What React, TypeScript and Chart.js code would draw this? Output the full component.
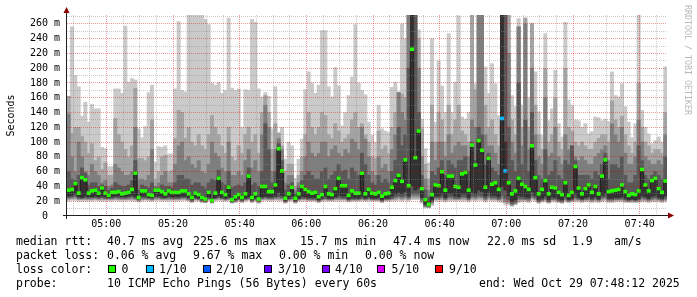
import React, { useEffect, useRef } from 'react';
import { Chart, registerables } from 'chart.js';

Chart.register(...registerables);

// ---- data: one value per 60 s step, 04:48:12 .. 07:48:12 ----
const median = [
  35,36,44,31,52,49,31,34,35,31, 38,31,28,32,32,33,30,31,32,36, 58,25,34,34,29,28,35,35,33,30,
  34,32,32,32,34,34,30,25,31,29, 25,23,32,21,31,51,32,29,39,22, 26,29,25,30,54,25,30,23,40,40,
  33,33,42,91,61,24,30,39,24,30, 40,36,33,31,32,26,29,40,30,29, 37,51,41,41,28,34,31,31,58,30,
  36,31,30,32,27,30,31,39,48,55, 47,76,41,225.6,79,115,37,22,15.7,29, 42,41,60,35,54,54,40,39,57,59,
  35,96,69,102,89,39,78,43,45,36, 132,61,45,30,34,51,43,40,36,95, 52,30,36,48,30,39,38,32,29,45,
  28,32,67,38,30,37,42,32,40,30, 54,76,33,34,35,36,42,33,28,30, 29,34,63,42,34,48,51,37,32,47.4,
];

const ping10 = [
  162,256,190,175,135,154,127,151,145,145, 93,91,67,67,172,172,166,257,181,186, 184,118,106,121,167,177,73,94,93,95,
  84,84,172,263,170,168,272,272,272,272, 272,266,259,180,177,181,166,170,268,173, 170,172,120,171,170,266,262,172,161,167,
  162,118,175,113,120,77,100,95,51,77, 104,171,195,180,166,177,251,251,175,161, 201,176,122,140,163,188,259,180,170,164,
  127,109,100,150,118,115,113,174,181,168, 260,240,272,272,272,252,131,91,72,240, 127,210,176,140,247,140,181,271,134,131,
  140,272,179,272,272,202,166,206,179,136, 272,272,272,163,148,267,150,268,160,261, 195,141,109,247,129,145,197,125,107,262,
  157,150,130,129,120,125,111,114,134,133, 129,131,128,195,163,161,179,148,127,106, 125,272,143,120,111,98,102,107,100,202,
];

const ping9 = [
  162,112,120,120,108,100,85,98,75,80, 63,72,55,55,132,110,100,90,80,95, 173,78,78,75,80,130,50,60,80,82,
  60,62,105,143,140,105,120,100,95,110, 95,90,110,136,120,110,95,85,120,80, 75,95,85,110,120,100,110,85,140,163,
  140,90,125,112,95,60,70,70,40,55, 80,110,140,120,110,120,140,136,110,105, 125,115,100,105,110,130,140,120,125,110,
  100,80,78,115,90,95,85,120,140,167, 165,160,272,272,272,240,118,70,50,150, 100,140,130,100,150,110,130,150,115,110,
  100,272,171,272,272,150,120,130,110,95, 272,272,272,130,110,256,120,268,120,260, 150,110,90,200,100,110,160,100,90,200,
  120,115,100,95,100,95,90,90,100,105, 110,110,100,156,130,120,135,110,95,85, 100,180,120,100,95,85,90,90,85,140,
];

const ping8 = [
  138,80,60,100,80,60,55,70,60,55, 45,48,40,42,70,65,60,55,55,60, 120,50,50,48,55,90,40,45,55,60,
  45,45,70,95,100,75,80,70,65,75, 60,58,70,100,85,80,65,60,100,55, 55,60,55,75,90,65,75,60,110,150,
  120,60,90,105,90,45,55,55,34,45, 60,80,100,85,80,85,100,100,80,90, 95,85,80,90,85,104,100,90,120,104,
  80,60,55,80,65,70,60,90,110,167, 140,130,272,272,272,200,80,50,35,100, 75,100,100,80,110,85,95,100,95,95,
  80,130,120,272,272,110,95,95,85,70, 272,272,220,100,85,256,95,260,90,200, 110,80,70,160,80,85,120,80,70,110,
  90,95,80,75,80,75,70,70,80,85, 90,95,75,125,110,100,120,85,70,70, 80,130,100,80,75,70,70,75,70,110,
];

const ping7 = [
  60,50,48,55,65,58,42,45,45,40, 42,40,35,38,45,42,40,40,42,48, 75,35,42,40,38,45,38,38,42,40,
  40,38,45,55,55,50,50,42,45,45, 40,38,45,50,48,62,45,42,60,38, 40,42,40,45,65,42,45,40,60,125,
  90,45,60,98,75,35,42,45,30,38, 48,55,60,55,50,50,60,65,50,55, 60,70,60,62,50,65,60,55,85,70,
  55,45,42,55,45,50,45,60,75,120, 95,110,200,272,272,140,55,35,25,60, 55,65,75,55,75,70,65,75,75,80,
  60,100,75,120,110,70,85,65,60,55, 272,272,120,75,60,180,70,130,60,140, 75,55,50,90,55,60,75,55,50,75,
  70,95,75,55,55,55,55,50,60,55, 70,85,50,70,70,65,80,55,45,45, 55,95,75,55,50,55,60,55,50,80,
];

const ping6 = [
  37,38,46,33,54,51,33,36,37,33, 40,33,30,34,34,35,32,33,34,38, 60,27,36,36,31,30,37,37,35,32,
  36,34,34,34,36,36,32,27,33,31, 27,25,34,23,33,53,34,31,41,24, 28,31,27,32,56,27,32,25,42,42,
  35,35,44,92,63,26,32,41,26,32, 42,38,35,33,34,28,31,42,32,31, 39,53,43,43,30,36,33,33,60,32,
  38,33,32,34,29,32,33,41,50,57, 49,78,43,272,81,117,39,24,17,31, 44,43,62,37,56,56,42,41,59,61,
  37,98,71,104,91,41,80,45,47,38, 272,100,47,32,36,53,45,42,38,97, 54,32,38,50,32,41,40,34,31,47,
  30,34,69,40,32,39,44,34,42,32, 56,78,35,36,37,38,44,35,30,32, 31,36,65,44,36,50,53,39,34,49,
];

const ping5 = [
  27,28,30,26,25,27,26,26,27,26, 27,26,25,26,27,27,26,26,27,28, 26,23,27,27,25,25,27,27,26,25,
  27,26,26,26,27,27,25,22,25,24, 22,21,26,20,25,27,25,24,26,20, 22,24,22,24,26,22,24,21,26,27,
  26,26,27,32,28,21,24,27,21,24, 27,26,25,25,25,22,24,27,24,24, 26,28,27,27,23,25,24,24,27,24,
  26,24,24,25,22,24,24,27,30,32, 30,33,27,41,35,38,25,16,14,22, 27,27,30,25,30,30,27,26,30,30,
  25,32,30,35,33,27,32,28,28,26, 40,35,27,20,22,28,27,26,25,33, 28,22,24,27,22,26,25,23,22,27,
  22,24,30,25,23,25,26,24,26,23, 28,30,24,24,25,25,26,24,22,23, 22,24,28,26,24,27,28,25,24,27,
];

const ping4 = [
  25,26,27,24,24,25,24,25,25,24, 25,24,24,24,25,25,24,24,25,26, 24,22,25,25,24,23,25,25,24,24,
  25,24,24,24,25,25,23,21,24,23, 21,20,24,19,24,25,24,23,24,19, 21,23,21,23,24,21,23,20,24,25,
  24,24,25,26,25,20,23,24,20,23, 24,24,23,23,23,21,23,24,23,23, 24,25,24,24,22,23,23,23,24,23,
  24,23,23,23,21,23,23,24,26,27, 26,28,25,30,30,30,23,14,13,20, 25,25,26,23,26,26,24,24,26,26,
  23,27,26,28,27,24,27,25,25,23, 28,24,22,17,19,24,24,23,23,27, 25,20,22,24,20,23,23,21,20,24,
  21,22,25,23,22,23,24,22,24,22, 25,26,22,22,23,23,24,22,21,22, 21,22,25,24,22,24,25,23,22,24,
];

const ping3 = [
  24,24,25,23,23,23,23,23,24,23, 24,23,23,23,24,23,23,23,23,24, 23,21,23,23,23,22,24,24,23,23,
  23,23,23,23,24,24,22,20,23,22, 20,19,23,19,23,24,23,22,23,19, 20,22,20,22,23,20,22,19,23,24,
  23,23,24,24,24,19,22,23,19,22, 23,23,22,22,22,20,22,23,22,22, 23,23,23,23,21,22,22,22,23,22,
  23,22,22,22,20,22,22,23,24,25, 24,25,23,27,27,27,21,13,12,18, 23,23,24,22,24,24,23,23,24,24,
  22,25,24,25,25,22,25,23,23,22, 24,20,19,15,17,22,22,22,21,25, 23,19,21,22,19,22,22,20,19,22,
  20,21,23,22,21,22,22,21,22,21, 23,24,21,21,22,22,22,21,20,21, 20,21,23,22,21,22,23,22,21,22,
];

const ping2 = [
  22,23,23,22,22,22,22,22,22,22, 22,22,22,22,22,22,22,22,22,22, 22,20,22,22,22,21,22,22,22,22,
  22,22,22,22,22,22,21,19,22,21, 19,18,22,18,22,22,22,21,22,18, 19,21,19,21,22,19,21,18,22,22,
  22,22,22,22,22,18,21,22,18,21, 22,22,21,21,21,19,21,22,21,21, 22,22,22,22,20,21,21,21,22,21,
  22,21,21,21,19,21,21,22,22,23, 22,23,22,24,24,24,19,12,11.5,16, 22,22,22,21,22,22,22,22,22,22,
  21,23,22,23,23,21,23,22,22,21, 21,18,17,14,16,20,21,21,20,23, 22,18,20,21,18,21,21,19,18,21,
  19,20,21,21,20,21,21,20,21,20, 21,22,20,20,21,21,21,20,19,20, 19,20,21,21,20,21,21,21,20,21,
];

const ping1 = [
  20,21,21,20,20,20,20,20,21,20, 20,20,20,20,21,20,20,20,21,20, 20,19,20,21,20,20,21,21,20,20,
  20,20,20,20,21,21,20,18,20,20, 18,18,20,17,20,21,20,20,20,17, 18,20,18,20,21,18,20,17,20,21,
  20,20,21,20,20,17,20,20,17,20, 20,20,20,20,20,18,20,20,20,20, 20,20,20,20,19,20,20,20,20,20,
  20,20,20,20,18,20,20,20,20,21, 20,21,20,22,22,22,17,11,11,14, 20,20,20,19,20,20,20,20,20,20,
  19,21,20,21,21,19,21,20,20,19, 18,15,15,13,15,18,19,19,18,21, 20,17,19,19,17,19,19,18,17,19,
  18,19,19,19,18,19,19,18,19,18, 19,20,18,18,19,19,19,18,18,18, 18,18,19,19,18,19,19,19,18,19,
];

// lost pings out of 10 for each step
const lossTenths = [
  0,0,0,0,0,0,0,0,0,0, 0,0,0,0,0,0,0,0,0,0, 0,0,0,0,0,0,0,0,0,0,
  0,0,0,0,0,0,0,0,0,0, 0,0,0,0,0,0,0,0,0,0, 0,0,0,0,0,0,0,0,0,0,
  0,0,0,0,0,0,0,0,0,0, 0,0,0,0,0,0,0,0,0,0, 0,0,0,0,0,0,0,0,0,0,
  0,0,0,0,0,0,0,0,0,0, 0,0,0,0,0,0,0,0,0,0, 0,0,0,0,0,0,0,0,0,0,
  0,0,0,0,0,0,0,0,0,0, 1,1,0,0,0,0,0,0,0,0, 0,0,0,0,0,0,0,0,0,0,
  0,0,0,0,0,0,0,0,0,0, 0,0,0,0,0,0,0,0,0,0, 0,0,0,0,0,0,0,0,0,0,
];

const lossLevels = ['0', '1/10', '2/10', '3/10', '4/10', '5/10', '9/10'];
const lossLevelTenths = [0, 1, 2, 3, 4, 5, 9];
const lossColors = ['#26ff00', '#00b8ff', '#0059ff', '#5e00ff', '#7e00ff', '#dd00ff', '#ff0000'];

const xTickLabels = ['05:00', '05:20', '05:40', '06:00', '06:20', '06:40', '07:00', '07:20', '07:40'];
const yTickValues = [0, 10, 20, 30, 40, 50, 60, 70, 80, 90, 100, 110, 120, 130, 140, 150, 160, 170, 180, 190, 200, 210, 220, 230, 240, 250, 260, 270];

const START_MIN = 4 * 60 + 48 + 12 / 60; // 04:48:12
const STEPS = 180;
const Y_MAX = 272;

const FONT = '"DejaVu Sans Mono", monospace';
const MAJOR_GRID = 'rgba(220, 0, 0, 0.4)';
const MINOR_GRID = 'rgba(140, 140, 140, 0.45)';

const hhmm = (m: number) =>
  `${String(Math.floor(m / 60)).padStart(2, '0')}:${String(m % 60).padStart(2, '0')}`;

const gridMinutes: number[] = [];
for (let m = 290; m <= 465; m += 5) gridMinutes.push(m);

const colorForLoss = (t: number) => {
  const k = lossLevelTenths.indexOf(t);
  return lossColors[k < 0 ? 0 : k];
};

const bands: [number[], number[], string][] = [
  [ping1, ping10, '#cacaca'],
  [ping2, ping9, '#a4a4a4'],
  [ping3, ping8, '#7e7e7e'],
  [ping4, ping7, '#585858'],
  [ping5, ping6, '#323232'],
];

const axisPlugin = {
  id: 'rrdAxes',
  afterDraw(chart: any) {
    const { ctx, chartArea: a } = chart;
    ctx.save();
    ctx.strokeStyle = '#202020';
    ctx.lineWidth = 1;
    ctx.beginPath();
    ctx.moveTo(a.left - 0.5, a.bottom + 3);
    ctx.lineTo(a.left - 0.5, a.top - 2);
    ctx.moveTo(a.left - 4, a.bottom - 0.5);
    ctx.lineTo(a.right + 2, a.bottom - 0.5);
    ctx.stroke();
    ctx.fillStyle = '#8b0000';
    ctx.beginPath();
    ctx.moveTo(a.left - 0.5, a.top - 8);
    ctx.lineTo(a.left - 3.5, a.top - 2);
    ctx.lineTo(a.left + 2.5, a.top - 2);
    ctx.closePath();
    ctx.fill();
    ctx.beginPath();
    ctx.moveTo(a.right + 7, a.bottom - 0.5);
    ctx.lineTo(a.right + 1, a.bottom - 3.5);
    ctx.lineTo(a.right + 1, a.bottom + 2.5);
    ctx.closePath();
    ctx.fill();
    ctx.restore();
  },
};

function buildConfig(): any {
  const datasets: any[] = bands.map(([lo, hi, color], k) => ({
    type: 'bar',
    data: lo.map((v, i) => ({ x: i + 0.5, y: [v, hi[i]] })),
    backgroundColor: color,
    borderWidth: 0,
    grouped: false,
    barPercentage: 1,
    categoryPercentage: 1,
    order: 10 - k,
  }));
  datasets.push({
    type: 'line',
    data: median.map((v, i) => ({ x: i + 0.5, y: v })),
    stepped: 'middle',
    borderColor: '#202020',
    borderWidth: 1,
    pointRadius: 0,
    fill: false,
    order: 1,
  });
  datasets.push({
    type: 'bar',
    data: median.map((v, i) => ({ x: i + 0.5, y: [v - 2, v + 2] })),
    backgroundColor: median.map((_, i) => colorForLoss(lossTenths[i])),
    borderWidth: 0,
    grouped: false,
    barPercentage: 1,
    categoryPercentage: 1,
    order: 0,
  });

  return {
    type: 'bar',
    data: { datasets },
    plugins: [axisPlugin],
    options: {
      responsive: false,
      devicePixelRatio: 1,
      animation: false,
      events: [],
      layout: { padding: { top: 15, right: 30, left: 0, bottom: 0 } },
      plugins: { legend: { display: false }, tooltip: { enabled: false }, title: { display: false } },
      scales: {
        x: {
          type: 'linear',
          min: 0,
          max: STEPS,
          offset: false,
          afterFit: (s: any) => { s.height = 297 - 216; },
          afterBuildTicks: (s: any) => {
            s.ticks = gridMinutes.map((m) => ({ value: m - START_MIN }));
          },
          grid: {
            offset: false,
            z: 1,
            drawTicks: false,
            lineWidth: 1,
            color: (c: any) => (gridMinutes[c.index] % 20 === 0 ? MAJOR_GRID : MINOR_GRID),
          },
          border: { display: false, dash: [1, 1] },
          ticks: {
            autoSkip: false,
            maxRotation: 0,
            minRotation: 0,
            padding: 2,
            color: '#000',
            font: { family: FONT, size: 10 },
            callback: (_v: any, i: number) => {
              const lbl = hhmm(gridMinutes[i]);
              return xTickLabels.includes(lbl) ? lbl : '';
            },
          },
        },
        y: {
          type: 'linear',
          min: 0,
          max: Y_MAX,
          afterFit: (s: any) => { s.width = 67; },
          afterBuildTicks: (s: any) => {
            s.ticks = yTickValues.map((v) => ({ value: v }));
          },
          grid: {
            z: 1,
            drawTicks: false,
            lineWidth: 1,
            color: (c: any) => {
              const v = yTickValues[c.index];
              if (v === 0) return 'rgba(0,0,0,0)';
              return v % 20 === 0 ? MAJOR_GRID : MINOR_GRID;
            },
          },
          border: { display: false, dash: [1, 1] },
          title: {
            display: true,
            text: 'Seconds',
            color: '#000',
            font: { family: FONT, size: 10 },
            padding: { top: 5, bottom: 0 },
          },
          ticks: {
            autoSkip: false,
            padding: 7,
            color: '#000',
            font: { family: FONT, size: 10 },
            callback: (_v: any, i: number) => {
              const v = yTickValues[i];
              if (v % 20 !== 0) return '';
              return v === 0 ? '0  ' : `${v} m`;
            },
          },
        },
      },
    },
  };
}

const textStyle = (left: number, top: number): React.CSSProperties => ({
  position: 'absolute',
  left,
  top,
  fontFamily: FONT,
  fontSize: 11.5,
  lineHeight: '14px',
  whiteSpace: 'pre',
  color: '#000',
});

const squareLefts = [108, 146, 203, 264, 322, 377, 435];
const squareLabelLefts = [121.5, 159, 216, 278, 335, 391.5, 449];

export default function App() {
  const ref = useRef<HTMLCanvasElement>(null);
  useEffect(() => {
    if (!ref.current) return;
    const chart = new Chart(ref.current, buildConfig());
    return () => chart.destroy();
  }, []);

  return (
    <div
      style={{
        position: 'absolute',
        left: 0,
        top: 0,
        width: 697,
        height: 297,
        background: '#fff',
        overflow: 'hidden',
      }}
    >
      <canvas
        ref={ref}
        width={697}
        height={297}
        style={{ position: 'absolute', left: 0, top: 0, width: 697, height: 297 }}
      />
      <div
        style={{
          position: 'absolute',
          left: 683,
          top: 5,
          writingMode: 'vertical-rl',
          fontFamily: FONT,
          fontSize: 8.3,
          lineHeight: '9px',
          color: '#b8b8b8',
          whiteSpace: 'pre',
        }}
      >
        RRDTOOL / TOBI OETIKER
      </div>

      <span style={textStyle(16, 234)}>median rtt:</span>
      <span style={textStyle(107, 234)}>40.7 ms avg</span>
      <span style={textStyle(193, 234)}>225.6 ms max</span>
      <span style={textStyle(300, 234)}>15.7 ms min</span>
      <span style={textStyle(393, 234)}>47.4 ms now</span>
      <span style={textStyle(487, 234)}>22.0 ms sd</span>
      <span style={textStyle(572, 234)}>1.9</span>
      <span style={textStyle(614, 234)}>am/s</span>

      <span style={textStyle(16, 248)}>packet loss:</span>
      <span style={textStyle(107, 248)}>0.06 % avg</span>
      <span style={textStyle(193, 248)}>9.67 % max</span>
      <span style={textStyle(279, 248)}>0.00 % min</span>
      <span style={textStyle(365, 248)}>0.00 % now</span>

      <span style={textStyle(16, 262)}>loss color:</span>
      {lossLevels.map((lbl, k) => (
        <React.Fragment key={lbl}>
          <span
            style={{
              position: 'absolute',
              left: squareLefts[k],
              top: 265,
              width: 8,
              height: 8,
              boxSizing: 'border-box',
              border: '1px solid #000',
              background: lossColors[k],
            }}
          />
          <span style={textStyle(squareLabelLefts[k], 262)}>{lbl}</span>
        </React.Fragment>
      ))}

      <span style={textStyle(16, 276)}>probe:</span>
      <span style={textStyle(107, 276)}>10 ICMP Echo Pings (56 Bytes) every 60s</span>
      <span style={textStyle(479, 276)}>end: Wed Oct 29 07:48:12 2025</span>
    </div>
  );
}
